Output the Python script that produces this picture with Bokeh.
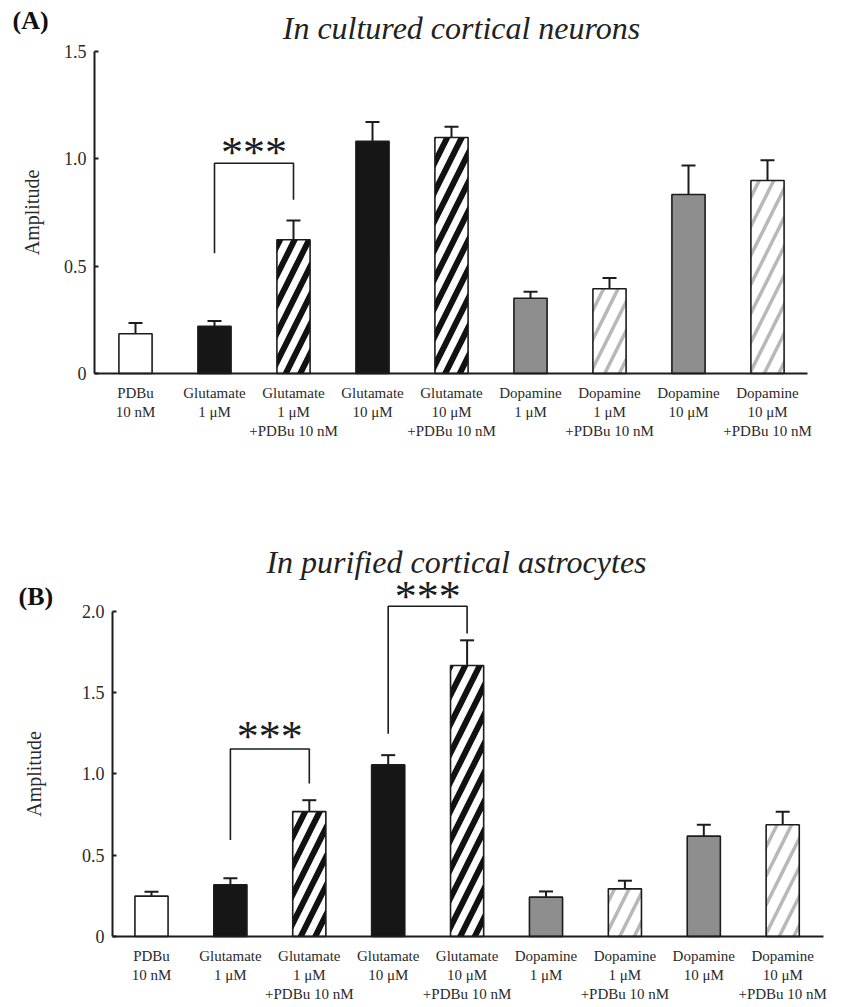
from bokeh.plotting import figure
from bokeh.models import (Range1d, FixedTicker, PrintfTickFormatter, Label,
                          Whisker, TeeHead, ColumnDataSource, LinearAxis)
from bokeh.layouts import column
from bokeh.embed import file_html
from bokeh.resources import INLINE
from bokeh.core.properties import value

# ---------------- data ----------------
categories = [
    "PDBu\n10 nM",
    "Glutamate\n1 μM",
    "Glutamate\n1 μM\n+PDBu 10 nM",
    "Glutamate\n10 μM",
    "Glutamate\n10 μM\n+PDBu 10 nM",
    "Dopamine\n1 μM",
    "Dopamine\n1 μM\n+PDBu 10 nM",
    "Dopamine\n10 μM",
    "Dopamine\n10 μM\n+PDBu 10 nM",
]
neurons_mean = [0.185, 0.22, 0.623, 1.082, 1.10, 0.351, 0.395, 0.834, 0.899]
neurons_sem = [0.05, 0.025, 0.09, 0.09, 0.05, 0.03, 0.05, 0.135, 0.095]
astro_mean = [0.248, 0.318, 0.768, 1.055, 1.666, 0.242, 0.293, 0.617, 0.687]
astro_sem = [0.027, 0.04, 0.07, 0.06, 0.155, 0.035, 0.05, 0.07, 0.08]

# significance brackets: (left bar, right bar, top, left leg end, right leg end, star level)
neurons_sig = [(1, 2, 0.98, 0.56, 0.81, 1.055)]
astro_sig = [(1, 2, 1.153, 0.594, 0.94, 1.26),
             (3, 4, 2.03, 1.247, 1.863, 2.12)]
sig_label = "***"

neurons_ticks = [0, 0.5, 1.0, 1.5]
astro_ticks = [0, 0.5, 1.0, 1.5, 2.0]

# ---------------- styles ----------------
fills = ["white", "#161616", "white", "#161616", "white",
         "#8e8e8e", "white", "#8e8e8e", "white"]
hatches = [" ", " ", "/", " ", "/", " ", "/", " ", "/"]
hatch_colors = ["black", "black", "#111111", "black", "#111111",
                "black", "#b8b8b8", "black", "#b8b8b8"]
hatch_weights = [1, 1, 6, 1, 6, 1, 3.5, 1, 3.5]

SERIF = "Liberation Serif"
INK = "#1c1c1c"
W = 841


def panel(means, sems, sig, ticks, H, x0, dx, y0, dy, ax_left, ax_right,
          label_standoff, title, title_px, letter, letter_px):
    # pixel layout -> data ranges (frame covers the whole canvas)
    X = lambda px: (px - x0) / dx
    Y = lambda py: (y0 - py) / dy
    p = figure(output_backend="svg", toolbar_location=None,
               width=W, height=H, min_border=0,
               x_axis_location=None, y_axis_location=None,
               x_range=Range1d(X(0), X(W)), y_range=Range1d(Y(H), Y(0)))
    p.outline_line_color = None
    p.grid.visible = False
    p.background_fill_color = "white"
    p.border_fill_color = "white"

    xs = list(range(len(categories)))
    src = ColumnDataSource(dict(
        x=xs, top=means,
        upper=[m + s for m, s in zip(means, sems)],
        lower=[m - s for m, s in zip(means, sems)],
        fill=fills, hatch=hatches, hcol=hatch_colors, hw=hatch_weights))

    p.vbar(x="x", top="top", bottom=0, width=0.42, source=src,
           fill_color="fill", line_color=INK, line_width=1.6,
           hatch_pattern="hatch", hatch_color="hcol", hatch_weight="hw",
           hatch_scale=29)

    w = Whisker(source=src, base="x", upper="upper", lower="lower",
                line_color=INK, line_width=2,
                upper_head=TeeHead(size=14, line_width=2, line_color=INK),
                lower_head=TeeHead(size=14, line_width=2, line_color=INK))
    p.add_layout(w)

    # significance brackets
    bx, by, sx, sy = [], [], [], []
    for a, b, top, la, lb, st in sig:
        bx.append([a, a, b, b])
        by.append([la, top, top, lb])
        sx.append((a + b) / 2)
        sy.append(st)
    p.multi_line(bx, by, line_color=INK, line_width=1.6)
    p.text(x=sx, y=sy, text=[sig_label] * len(sx), text_font=value(SERIF),
           text_font_size="44px", text_align="center",
           text_baseline="alphabetic", y_offset=5, text_color=INK)

    # axes (placed at fixed data locations inside the canvas)
    xa = LinearAxis(fixed_location=0, bounds=(X(ax_left), X(ax_right)))
    xa.ticker = FixedTicker(ticks=xs)
    xa.major_label_overrides = {i: c for i, c in enumerate(categories)}
    xa.major_tick_line_color = None
    xa.minor_tick_line_color = None
    xa.axis_line_width = 2
    xa.axis_line_color = INK
    xa.major_label_text_font = SERIF
    xa.major_label_text_font_size = "15px"
    xa.major_label_text_color = "#2a2a2a"
    xa.major_label_standoff = 5
    p.add_layout(xa, "below")

    ya = LinearAxis(fixed_location=X(ax_left), bounds=(0, ticks[-1]))
    ya.ticker = FixedTicker(ticks=ticks)
    ya.formatter = PrintfTickFormatter(format="%.1f")
    ya.major_label_overrides = {0: "0"}
    ya.major_tick_in = 4
    ya.major_tick_out = 0
    ya.major_tick_line_width = 2
    ya.major_tick_line_color = INK
    ya.minor_tick_line_color = None
    ya.axis_line_width = 2
    ya.axis_line_color = INK
    ya.major_label_text_font = SERIF
    ya.major_label_text_font_size = "18px"
    ya.major_label_text_color = "#2a2a2a"
    ya.major_label_standoff = 8
    ya.axis_label = "Amplitude"
    ya.axis_label_text_font = SERIF
    ya.axis_label_text_font_style = "normal"
    ya.axis_label_text_font_size = "20px"
    ya.axis_label_text_color = "#2a2a2a"
    ya.axis_label_standoff = label_standoff
    p.add_layout(ya, "left")

    p.add_layout(Label(x=X(title_px[0]), y=Y(title_px[1]), text=title,
                       text_font=SERIF, text_font_style="italic",
                       text_font_size="32px", text_align="center",
                       text_baseline="alphabetic", text_color="#222222"))
    p.add_layout(Label(x=X(letter_px[0]), y=Y(letter_px[1]), text=letter,
                       text_font=SERIF, text_font_style="bold",
                       text_font_size="26px", text_align="left",
                       text_baseline="alphabetic", text_color="#111111"))
    return p


pA = panel(neurons_mean, neurons_sem, neurons_sig, neurons_ticks,
           H=448, x0=135, dx=79, y0=373, dy=214.6, ax_left=94, ax_right=807,
           label_standoff=18,
           title="In cultured cortical neurons", title_px=(461, 27),
           letter="(A)", letter_px=(12, 20))

pB = panel(astro_mean, astro_sem, astro_sig, astro_ticks,
           H=557, x0=151, dx=78.9, y0=488, dy=162.65, ax_left=112, ax_right=823,
           label_standoff=34,
           title="In purified cortical astrocytes", title_px=(456, 113),
           letter="(B)", letter_px=(18, 148))

layout = column(pA, pB, spacing=0)
open("out.html", "w").write(file_html(layout, INLINE))
